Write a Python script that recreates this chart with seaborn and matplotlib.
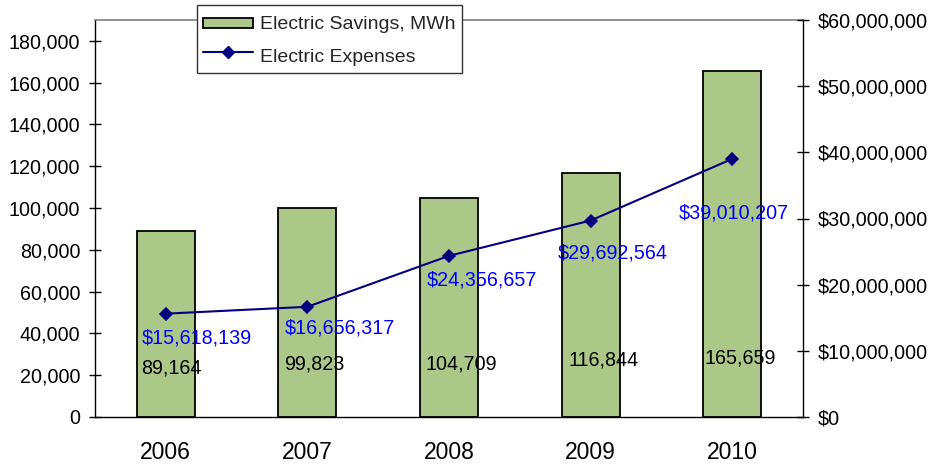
import matplotlib
matplotlib.use("Agg")
import matplotlib.pyplot as plt
import matplotlib.ticker as mticker
from matplotlib.legend_handler import HandlerPatch
from matplotlib.lines import Line2D
from matplotlib.patches import Patch, Rectangle
import pandas as pd
import seaborn as sns

# --- data -------------------------------------------------------------
years = ["2006", "2007", "2008", "2009", "2010"]
savings_mwh = [89164, 99823, 104709, 116844, 165659]
expenses_usd = [15618139, 16656317, 24356657, 29692564, 39010207]

savings_ticks = [0, 20000, 40000, 60000, 80000, 100000, 120000, 140000, 160000, 180000]
expense_ticks = [0, 10000000, 20000000, 30000000, 40000000, 50000000, 60000000]

series_names = ["Electric Savings, MWh", "Electric Expenses"]

# --- label placement (pixel offsets) -----------------------------------
expense_label_dx = [31, 32, 33, 22, 2]
expense_label_drop = [30, 27, 30, 38, 60]
savings_label_dx = [6, 7, 12, 13, 8]
savings_label_rise = [43, 48, 48, 52, 53]

bar_green = "#ABC888"
line_navy = "#000080"
label_blue = "#0000FF"

sns.set_theme(style="white")
plt.rcParams["font.family"] = ["Liberation Sans", "DejaVu Sans"]

df = pd.DataFrame({"year": years, "savings": savings_mwh, "expenses": expenses_usd})

fig = plt.figure(figsize=(9.31, 4.66), dpi=100)
ax = fig.add_axes([95 / 931, 49 / 466, 708 / 931, 397 / 466])

sns.barplot(data=df, x="year", y="savings", color=bar_green, saturation=1,
            edgecolor="black", linewidth=1.3, width=0.41, ax=ax)

ax2 = ax.twinx()
sns.pointplot(data=df, x="year", y="expenses", color=line_navy, markers="D",
              linestyles="-", errorbar=None, markersize=6, linewidth=1.5, ax=ax2)

ax.set_xlim(-0.5, 4.5)
ax.set_ylim(0, 190000)
ax2.set_ylim(0, 60000000)

ax.set_xlabel("")
ax.set_ylabel("")
ax2.set_xlabel("")
ax2.set_ylabel("")

# axis ticks
ax.set_yticks(savings_ticks)
ax.yaxis.set_major_formatter(mticker.FuncFormatter(lambda v, p: f"{v:,.0f}"))
ax2.set_yticks(expense_ticks)
ax2.yaxis.set_major_formatter(mticker.FuncFormatter(lambda v, p: f"${v:,.0f}"))

ax.set_xticks(range(len(years)), labels=years)
ax.set_xticks([i - 0.5 for i in range(len(years) + 1)], minor=True)
ax.tick_params(axis="x", which="major", length=0, labelsize=16.5, pad=17.5, colors="black")
ax.tick_params(axis="x", which="minor", direction="inout", length=11, width=1, color="black")
ax.tick_params(axis="y", direction="inout", length=8, width=1, color="black",
               labelsize=14.2, pad=6.5, labelcolor="black", left=True)
ax2.tick_params(axis="y", direction="inout", length=8, width=1, color="black",
                labelsize=14.2, pad=6.5, labelcolor="black", right=True)

# spines
for s in ["left", "bottom"]:
    ax.spines[s].set_color("black")
    ax.spines[s].set_linewidth(1.0)
ax.spines["top"].set_color("#808080")
ax.spines["top"].set_linewidth(1.2)
ax.spines["right"].set_visible(False)
for s in ["left", "top", "bottom"]:
    ax2.spines[s].set_visible(False)
ax2.spines["right"].set_color("black")
ax2.spines["right"].set_linewidth(1.0)
ax.grid(False)
ax2.grid(False)

# value labels
for i, v in enumerate(savings_mwh):
    ax.annotate(f"{v:,}", xy=(i, 0), xycoords="data",
                xytext=(savings_label_dx[i], savings_label_rise[i]),
                textcoords="offset pixels", ha="center", va="baseline",
                fontsize=14.2, color="black")
for i, v in enumerate(expenses_usd):
    ax2.annotate(f"${v:,}", xy=(i, v), xycoords="data",
                 xytext=(expense_label_dx[i], -expense_label_drop[i]),
                 textcoords="offset pixels", ha="center", va="baseline",
                 fontsize=14.2, color=label_blue)


# legend: a flat swatch inside a taller row
def flat_swatch(legend, orig_handle, xdescent, ydescent, width, height, fontsize):
    h = 7.5
    return Rectangle((-xdescent, -ydescent + (height - h) / 2), width, h)


handles = [
    Patch(facecolor=bar_green, edgecolor="black", linewidth=1.3),
    Line2D([], [], color=line_navy, marker="D", markersize=6, linewidth=1.5),
]
leg = fig.legend(handles, series_names, loc="upper left",
                 bbox_to_anchor=(197 / 931, 1 - 5 / 466), frameon=True,
                 fancybox=False, edgecolor="#333333", framealpha=1,
                 fontsize=14, handlelength=2.6, handleheight=1.55,
                 handletextpad=0.36, borderpad=0.3, labelspacing=0.4,
                 borderaxespad=0,
                 handler_map={Patch: HandlerPatch(patch_func=flat_swatch)})
leg.get_frame().set_linewidth(1.0)

fig.savefig("out.png", dpi=100, facecolor="white")
